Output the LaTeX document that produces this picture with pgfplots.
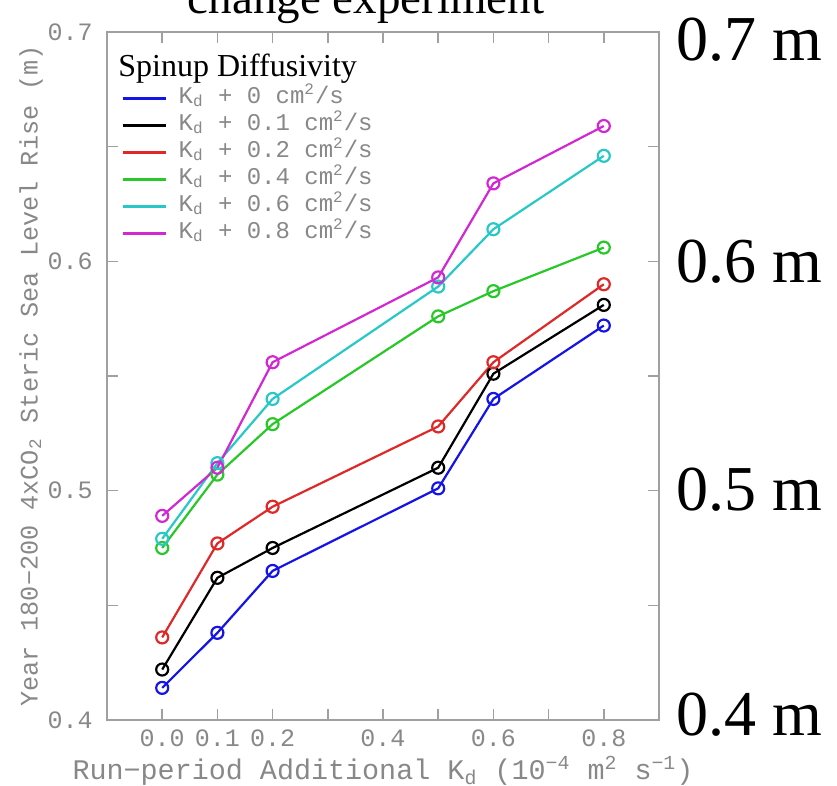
\documentclass[border=0pt]{standalone}
\usepackage{fontspec}
\setmainfont{Liberation Serif}
\setmonofont{Liberation Mono}
\usepackage{pgfplots}
\pgfplotsset{compat=1.18}
\definecolor{axgray}{HTML}{A0A0A0}
\definecolor{txtgray}{HTML}{888888}
\definecolor{cblue}{HTML}{1414E6}
\definecolor{cred}{HTML}{E02828}
\definecolor{cgreen}{HTML}{28C828}
\definecolor{ccyan}{HTML}{28C8C8}
\definecolor{cmag}{HTML}{D228D2}
\begin{document}
\begin{tikzpicture}[x=1pt,y=1pt]
\begin{axis}[
  at={(53.5pt,33pt)}, anchor=south west,
  scale only axis, width=276pt, height=344pt,
  xmin=-0.1, xmax=0.9, ymin=0.4, ymax=0.7,
  clip=false,
  xtick={0,0.1,0.2,0.3,0.4,0.5,0.6,0.7,0.8},
  xticklabels={0.0,0.1,0.2,,0.4,,0.6,,0.8},
  ytick={0.4,0.45,0.5,0.55,0.6,0.65,0.7},
  yticklabels={0.4,,0.5,,0.6,,0.7},
  tick pos=both, tick align=inside,
  major tick length=5.5pt,
  axis line style={axgray, line width=0.75pt},
  every tick/.style={axgray, line width=0.75pt},
  ticklabel style={font=\ttfamily\fontsize{12.5}{12.5}\selectfont, text=txtgray},
  xticklabel style={anchor=center, yshift=-9pt},
  yticklabel style={anchor=east, inner sep=0pt, xshift=-7pt},
  xlabel={Run−period Additional K\textsubscript{d} (10\textsuperscript{−4} m\textsuperscript{2} s\textsuperscript{−1})},
  ylabel={Year 180−200 4xCO\textsubscript{2} Steric Sea Level Rise (m)},
  xlabel style={at={(axis description cs:0.5,-0.074)}, anchor=center, font=\ttfamily\fontsize{14.2}{14.2}\selectfont, text=txtgray},
  ylabel style={at={(axis description cs:-0.1377,0.5)}, anchor=center, font=\ttfamily\fontsize{12.6}{12.6}\selectfont, text=txtgray},
  legend cell align=left,
  legend image code/.code={\draw[#1, line width=1.1pt] (0pt,0pt) -- (21.5pt,0pt);},
  legend style={at={(axis description cs:0.0254,0.9235)}, anchor=north west, draw=none, fill=none, inner sep=0pt,
    font=\ttfamily\fontsize{12}{12}\selectfont, text=txtgray,
    nodes={inner sep=0pt, text height=9pt, text depth=4.5pt},
    row sep=0pt,
    /tikz/every odd column/.append style={column sep=6pt}},
  every axis plot/.append style={line width=1.1pt, mark=o, mark size=3pt, mark options={solid}},
]
\addplot[cblue] coordinates {(0,0.414) (0.1,0.438) (0.2,0.465) (0.5,0.501) (0.6,0.540) (0.8,0.572)};
\addlegendentry{K\textsubscript{d} + 0 cm\textsuperscript{2}/s}
\addplot[black] coordinates {(0,0.422) (0.1,0.462) (0.2,0.475) (0.5,0.510) (0.6,0.551) (0.8,0.581)};
\addlegendentry{K\textsubscript{d} + 0.1 cm\textsuperscript{2}/s}
\addplot[cred] coordinates {(0,0.436) (0.1,0.477) (0.2,0.493) (0.5,0.528) (0.6,0.556) (0.8,0.590)};
\addlegendentry{K\textsubscript{d} + 0.2 cm\textsuperscript{2}/s}
\addplot[cgreen] coordinates {(0,0.475) (0.1,0.507) (0.2,0.529) (0.5,0.576) (0.6,0.587) (0.8,0.606)};
\addlegendentry{K\textsubscript{d} + 0.4 cm\textsuperscript{2}/s}
\addplot[ccyan] coordinates {(0,0.479) (0.1,0.512) (0.2,0.540) (0.5,0.589) (0.6,0.614) (0.8,0.646)};
\addlegendentry{K\textsubscript{d} + 0.6 cm\textsuperscript{2}/s}
\addplot[cmag] coordinates {(0,0.489) (0.1,0.510) (0.2,0.556) (0.5,0.593) (0.6,0.634) (0.8,0.659)};
\addlegendentry{K\textsubscript{d} + 0.8 cm\textsuperscript{2}/s}
\end{axis}
\node[anchor=base west, inner sep=0pt, font=\fontsize{16}{16}\selectfont] at (59pt,354.5pt) {Spinup Diffusivity};
\node[anchor=base, inner sep=0pt, font=\fontsize{23.5}{23.5}\selectfont] at (183pt,386pt) {change experiment};
\begin{scope}[every node/.style={anchor=west, inner sep=0pt, font=\fontsize{32}{32}\selectfont}]
\node at (338pt,373pt) {0.7 m};
\node at (338pt,262pt) {0.6 m};
\node at (338pt,148pt) {0.5 m};
\node at (338pt,35.5pt) {0.4 m};
\end{scope}
\pgfresetboundingbox
\path[use as bounding box] (0pt,0pt) rectangle (418.5pt,393pt);
\end{tikzpicture}
\end{document}
